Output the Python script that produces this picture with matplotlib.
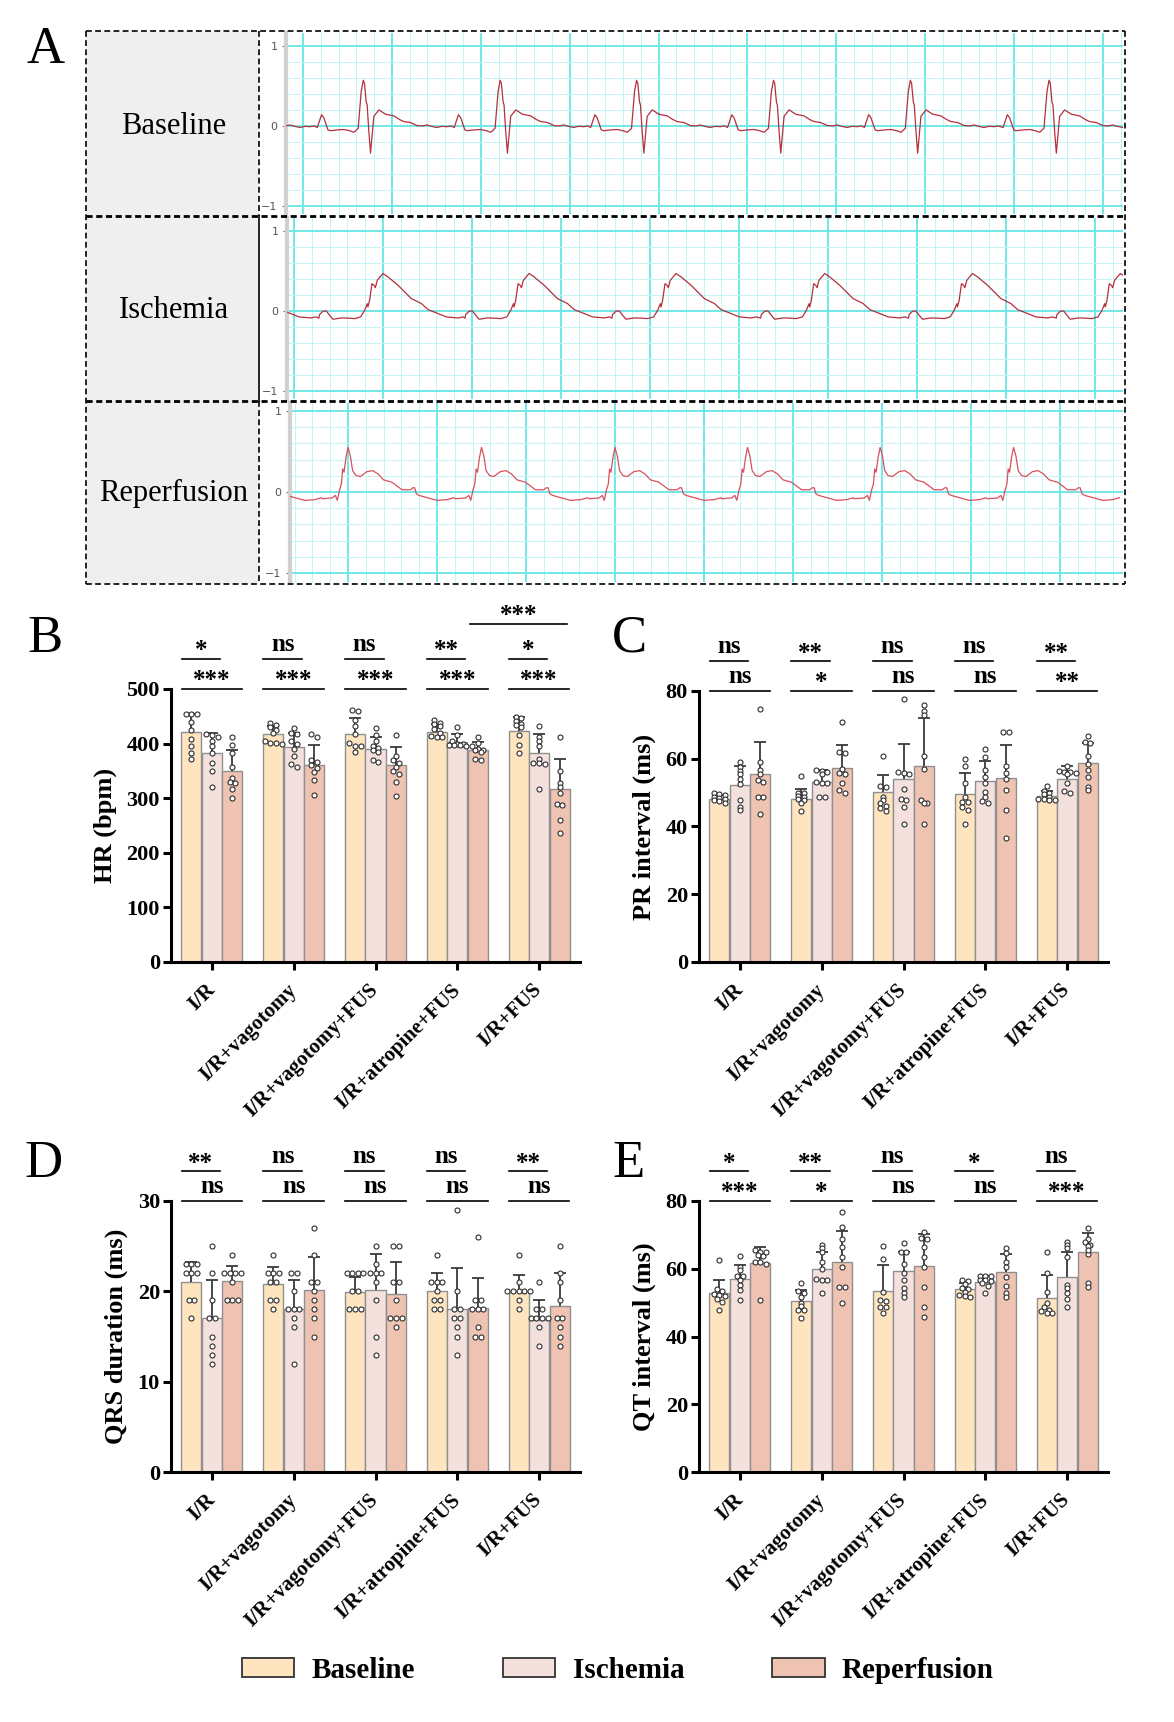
import numpy as np
import matplotlib
matplotlib.use('Agg')
import matplotlib.pyplot as plt
from matplotlib.patches import Rectangle, Patch
from matplotlib.ticker import MultipleLocator

plt.rcParams['font.family'] = ['Liberation Serif', 'DejaVu Serif']
plt.rcParams['font.weight'] = 'bold'
plt.rcParams['axes.labelweight'] = 'bold'

# --- data -------------------------------------------------------------
groups = ['I/R', 'I/R+vagotomy', 'I/R+vagotomy+FUS', 'I/R+atropine+FUS', 'I/R+FUS']
conditions = ['Baseline', 'Ischemia', 'Reperfusion']
cond_colors = ['#FEE5BF', '#F4E1DE', '#EEC3B2']

# HR (bpm): mean, SD, single animals  [group][condition]
hr_mean = [[421, 383, 349], [417, 393, 361], [417, 390, 360], [421, 403, 388], [423, 382, 316]]
hr_sd = [[34, 36, 40], [16, 26, 36], [30, 23, 34], [14, 15, 15], [26, 36, 56]]
hr_pts = [
    [[455, 455, 454, 440, 425, 408, 395, 382, 371], [417, 415, 412, 404, 395, 382, 365, 350, 320], [412, 397, 383, 357, 337, 330, 328, 317, 300]],
    [[437, 434, 430, 425, 420, 405, 402, 401, 400], [428, 420, 418, 404, 400, 390, 378, 362, 358], [418, 412, 370, 366, 360, 355, 348, 334, 306]],
    [[461, 460, 444, 432, 418, 395, 401, 395, 385], [429, 415, 405, 395, 392, 388, 385, 370, 366], [415, 377, 370, 364, 357, 350, 345, 330, 304]],
    [[443, 438, 435, 432, 426, 420, 414, 413, 412], [430, 416, 405, 400, 399, 398, 398, 397, 396], [413, 402, 395, 390, 389, 388, 385, 372, 370]],
    [[449, 447, 441, 436, 434, 430, 416, 397, 382], [432, 412, 405, 395, 372, 365, 364, 363, 316], [412, 350, 328, 320, 309, 290, 288, 260, 236]],
]

# PR interval (ms)
pr_mean = [[48.2, 52.2, 55.6], [48.0, 53.2, 57.3], [50.2, 54.0, 57.9], [49.5, 53.4, 54.2], [49.1, 54.1, 58.7]]
pr_sd = [[1.2, 5.6, 9.4], [3.2, 3.4, 6.9], [5.0, 10.5, 14.0], [6.2, 5.9, 10.0], [1.5, 3.8, 6.0]]
pr_pts = [
    [[49.8, 49.5, 49.2, 48.8, 48.5, 48.0, 47.8, 47.5, 47.0], [59, 57.6, 56.5, 55.5, 54, 52.5, 47.8, 45.8, 44.8], [74.8, 58.9, 56.6, 55.5, 53.7, 53, 48.8, 48.8, 43.7]],
    [[54.9, 50, 49.8, 49, 48.8, 48, 47.8, 46.8, 44.7], [56.8, 56.5, 56.2, 55.6, 53, 52.8, 52.8, 48.8, 48.8], [70.9, 62, 61.8, 57, 55.7, 55.5, 52.7, 50.7, 49.8]],
    [[60.9, 52, 51.8, 48.8, 47.8, 46.8, 46, 45.5, 44.7], [77.7, 56, 55.8, 55.6, 51.2, 48, 47.8, 45.8, 40.7], [76, 74, 72.8, 60.9, 56.9, 47.8, 47, 46.8, 40.7]],
    [[59.9, 57.9, 52.7, 48.8, 47.3, 47.3, 45.8, 45, 40.7], [62.8, 60.6, 56.6, 54.7, 52.7, 50.2, 48.6, 47.5, 46.8], [68, 67.8, 57.9, 55.7, 54, 50.7, 44.9, 36.7]],
    [[52, 50.6, 50, 49.5, 48.8, 48, 48, 47.8, 47.8], [57.9, 56.5, 56, 56, 55.8, 55.5, 52.9, 50.5, 50], [66.7, 64.8, 64.6, 60.9, 58.5, 56.8, 54.7, 51.7, 50.7]],
]

# QRS duration (ms)
qrs_mean = [[21.0, 17.0, 21.1], [20.8, 18.0, 20.1], [19.9, 20.1, 19.7], [20.0, 18.0, 18.1], [20.0, 16.8, 18.4]]
qrs_sd = [[2.2, 4.2, 1.7], [1.9, 3.2, 3.7], [1.7, 4.0, 3.5], [2.0, 4.6, 3.4], [1.8, 2.2, 3.6]]
qrs_pts = [
    [[23, 23, 23, 22, 22, 22, 19, 19, 17], [25, 22, 19, 17, 17, 15, 14, 13, 12], [24, 22, 22, 22, 22, 21, 19, 19, 19]],
    [[24, 22, 22, 22, 21, 21, 19, 19, 18], [22, 22, 20, 18, 18, 18, 17, 16, 12], [27, 24, 21, 21, 20, 19, 18, 17, 15]],
    [[22, 22, 22, 22, 20, 20, 18, 18, 18], [25, 23, 22, 22, 22, 21, 19, 15, 13], [25, 25, 21, 21, 19, 17, 17, 17, 16]],
    [[24, 21, 21, 21, 20, 19, 19, 18, 18], [29, 20, 18, 18, 17, 17, 16, 15, 13], [26, 19, 19, 18, 18, 18, 16, 15, 15]],
    [[24, 21, 20, 20, 20, 20, 20, 19, 18], [21, 18, 18, 17, 17, 17, 17, 16, 14], [25, 22, 21, 19, 17, 17, 16, 15, 14]],
]

# QT interval (ms)
qt_mean = [[52.7, 57.0, 61.8], [50.5, 59.8, 62.0], [53.5, 59.2, 60.9], [53.9, 56.1, 58.9], [51.5, 57.6, 64.8]]
qt_sd = [[4.1, 4.0, 4.6], [3.2, 5.2, 9.2], [7.6, 5.8, 9.5], [1.8, 1.8, 5.6], [6.6, 7.4, 5.9]]
qt_pts = [
    [[62.7, 54, 53.5, 52.5, 52.3, 52, 51.2, 50.3, 47.8], [63.8, 60.6, 59.5, 58, 57.8, 56.6, 55.2, 53.7, 50.7], [65.5, 65, 64.8, 64, 63.8, 62, 61.5, 62, 50.7]],
    [[55.7, 53.5, 52.9, 51.7, 50, 49, 47.8, 47.8, 45.6], [67, 66, 65, 62, 60, 57, 56.8, 56.6, 52.9], [76.8, 72.3, 68.9, 66.5, 63.5, 60.6, 54.7, 54.5, 49.8]],
    [[66.8, 62.8, 53, 50.8, 50.6, 48.8, 48.6, 47], [67.7, 65, 64.8, 61.5, 58.6, 56.6, 54.2, 52.9, 51.7], [70.9, 69, 68.9, 66.5, 63.5, 60.6, 54.7, 48.8, 45.8]],
    [[56.8, 56.5, 55.5, 54.2, 54, 53.2, 52.2, 52, 51.8], [58, 57.9, 57.8, 56.8, 56.6, 56.4, 55.7, 55, 52.7], [66, 64.7, 62, 60.6, 57.6, 55, 52.7, 51.7]],
    [[64.8, 58.6, 53.2, 49.8, 48.6, 47.8, 47.5, 46.8, 46.8], [68, 67, 66, 63.5, 55.2, 54.2, 52.9, 51.2, 48.8], [72, 68.9, 67.9, 67, 66.8, 64.5, 65.5, 55.7, 54.7]],
]

# significance: baseline vs ischemia (upper), baseline vs reperfusion (lower)
hr_sig_top = ['*', 'ns', 'ns', '**', '*']
hr_sig_low = ['***', '***', '***', '***', '***']
pr_sig_top = ['ns', '**', 'ns', 'ns', '**']
pr_sig_low = ['ns', '*', 'ns', 'ns', '**']
qrs_sig_top = ['**', 'ns', 'ns', 'ns', '**']
qrs_sig_low = ['ns', 'ns', 'ns', 'ns', 'ns']
qt_sig_top = ['*', '**', 'ns', '*', 'ns']
qt_sig_low = ['***', '*', 'ns', 'ns', '***']

# ECG traces: one beat (time in grid divisions from the main peak, mV) + peak times
base_beat_t = [-0.524, -0.50, -0.476, -0.45, -0.404, -0.375, -0.30, -0.225, -0.16, -0.112, -0.064, -0.03, -0.007,
               0.007, 0.026, 0.037, 0.056, 0.075, 0.094, 0.112, 0.169, 0.243, 0.337, 0.40, 0.45, 0.524, 0.60,
               0.66, 0.71, 0.76, 0.82, 0.88, 0.936, 0.98]
base_beat_v = [-0.02, 0.06, 0.14, 0.10, -0.05, -0.06, -0.05, -0.045, -0.06, -0.08, -0.03, 0.43, 0.57,
               0.53, 0.30, 0.26, -0.07, -0.34, -0.11, 0.12, 0.20, 0.146, 0.125, 0.08, 0.054, 0.042, 0.004,
               0.0, 0.012, -0.005, -0.02, -0.005, -0.01, 0.0]
base_peaks = [-0.855, 0.685, 2.225, 3.76, 5.30, 6.84, 8.40]

isch_beat_t = [-0.72, -0.712, -0.674, -0.637, -0.60, -0.562, -0.468, -0.40, -0.318, -0.251, -0.206, -0.176,
               -0.169, -0.15, -0.124, -0.101, -0.086, -0.064, 0.0, 0.056, 0.169, 0.318, 0.431, 0.506, 0.618,
               0.712, 0.843, 0.90]
isch_beat_v = [-0.09, -0.046, -0.004, 0.0, -0.054, -0.104, -0.088, -0.09, -0.096, -0.075, 0.008, 0.09,
               0.05, 0.133, 0.34, 0.32, 0.29, 0.383, 0.467, 0.425, 0.32, 0.154, 0.092, 0.017, -0.033,
               -0.075, -0.088, -0.075]
isch_peaks = [-0.656, 0.999, 2.64, 4.29, 5.96, 7.62, 9.28]

rep_beat_t = [-0.292, -0.18, -0.142, -0.12, -0.097, -0.075, -0.06, -0.045, -0.022, 0.0, 0.026, 0.052, 0.09,
              0.139, 0.213, 0.277, 0.337, 0.40, 0.494, 0.607, 0.70, 0.727, 0.749, 0.768, 0.80, 0.906, 1.0,
              1.112, 1.19]
rep_beat_v = [-0.082, -0.073, -0.041, -0.102, 0.02, 0.10, 0.286, 0.245, 0.43, 0.551, 0.449, 0.265, 0.204,
              0.192, 0.253, 0.265, 0.224, 0.151, 0.122, 0.029, 0.029, 0.053, 0.053, -0.02, -0.041, -0.073,
              -0.102, -0.094, -0.07]
rep_peaks = [-1.49, 0.0, 1.50, 3.0, 4.49, 5.98, 7.48]

# --- figure -----------------------------------------------------------
W, H = 1174, 1722
fig = plt.figure(figsize=(W / 100, H / 100), dpi=100)


def px_axes(x0, y0, x1, y1):
    return fig.add_axes([x0 / W, 1 - y1 / H, (x1 - x0) / W, (y1 - y0) / H])


def ecg_row(box, xlim, ylim, beat_t, beat_v, peaks, color):
    ax = px_axes(*box)
    t = np.concatenate([np.array(beat_t) + p for p in peaks])
    v = np.concatenate([np.array(beat_v) for p in peaks])
    ax.plot(t, v, color=color, lw=0.9, zorder=3)
    ax.set_xlim(*xlim)
    ax.set_ylim(*ylim)
    ax.set_xticks(np.arange(np.ceil(xlim[0]), xlim[1], 1.0))
    ax.xaxis.set_minor_locator(MultipleLocator(0.2))
    ax.set_yticks([-1, 0, 1])
    ax.yaxis.set_minor_locator(MultipleLocator(0.2))
    ax.grid(which='minor', color='#c4f4f4', lw=0.7, zorder=0)
    ax.grid(which='major', color='#66e6e6', lw=1.3, zorder=1)
    ax.tick_params(axis='x', which='both', length=0, labelbottom=False)
    ax.tick_params(axis='y', which='major', length=3, color='#777777', labelsize=8,
                   labelcolor='#555555', pad=3)
    ax.tick_params(axis='y', which='minor', length=1.5, color='#999999')
    for lab in ax.get_yticklabels():
        lab.set_family('DejaVu Sans')
        lab.set_weight('normal')
    for s in ['top', 'right', 'bottom']:
        ax.spines[s].set_visible(False)
    ax.spines['left'].set_color('#d0d0d0')
    ax.spines['left'].set_linewidth(3)
    return ax


ecg_row((286, 33, 1123, 214), (-0.191, 9.225), (-1.1, 1.16), base_beat_t, base_beat_v, base_peaks, '#b3303c')
ecg_row((287, 218, 1123, 399), (-0.079, 9.31), (-1.1, 1.16), isch_beat_t, isch_beat_v, isch_peaks, '#b3303c')
ecg_row((290, 403, 1123, 582), (-0.652, 8.71), (-1.11, 1.10), rep_beat_t, rep_beat_v, rep_peaks, '#d9505c')


def swarm(vals, ppu, d=5.6, group_px=81.5):
    vals = np.asarray(vals, float)
    order = np.argsort(vals)[::-1]
    offs = np.zeros(len(vals))
    rows = []
    for k in order:
        y = vals[k] * ppu
        if rows and abs(rows[-1][0] - y) < d * 0.6 and len(rows[-1][1]) < 5:
            rows[-1][1].append(k)
        else:
            rows.append([y, [k]])
    for y, idx in rows:
        n = len(idx)
        for r, k in enumerate(idx):
            offs[k] = (r - (n - 1) / 2) * d / group_px
    return offs


def bar_panel(box, means, sds, pts, ymax, ystep, ylabel, sig_top, sig_low):
    ax = px_axes(*box)
    ppu = (box[3] - box[1]) / ymax
    x = np.arange(len(groups))
    offs = [-0.25, 0.0, 0.25]
    for j in range(3):
        m = np.array([means[i][j] for i in range(len(groups))])
        s = np.array([sds[i][j] for i in range(len(groups))])
        xs = x + offs[j]
        ax.bar(xs, m, width=0.245, color=cond_colors[j], edgecolor='#8f8f8f', linewidth=1.0, zorder=2)
        ax.vlines(xs, m, m + s, color='#3a3a3a', lw=1.3, zorder=3)
        ax.plot(xs, m + s, ls='none', marker='_', ms=9, mew=1.3, color='#3a3a3a', zorder=3)
        for i in range(len(groups)):
            v = pts[i][j]
            ax.scatter(xs[i] + swarm(v, ppu), v, s=13, facecolor='white', edgecolor='#2e2e2e',
                       linewidth=0.8, zorder=4)
    ax.set_xlim(-0.5, 4.5)
    ax.set_ylim(0, ymax)
    ax.set_yticks(np.arange(0, ymax + ystep / 2, ystep))
    ax.set_xticks(x)
    ax.set_xticklabels(groups, rotation=45, ha='right', va='center', rotation_mode='anchor', fontsize=15)
    for s in ['top', 'right']:
        ax.spines[s].set_visible(False)
    for s in ['left', 'bottom']:
        ax.spines[s].set_linewidth(2.2)
    ax.tick_params(axis='y', length=6, width=2.2, labelsize=16, pad=2)
    ax.tick_params(axis='x', length=6, width=2.2, pad=12)
    ax.set_ylabel(ylabel, fontsize=19, labelpad=7)
    # significance bars
    for i in range(len(groups)):
        for frac, a, b, lab in [(1.11, -0.37, 0.10, sig_top[i]), (1.0, -0.37, 0.37, sig_low[i])]:
            yy = frac * ymax
            ax.plot([i + a, i + b], [yy, yy], color='black', lw=1.2, clip_on=False, zorder=5)
            off = 6 if lab == 'ns' else 1.2
            ax.annotate(lab, xy=(i + (a + b) / 2, yy), xytext=(0, off), textcoords='offset points',
                        ha='center', va='baseline', fontsize=18, annotation_clip=False)
    return ax


axB = bar_panel((171, 689, 580, 962), hr_mean, hr_sd, hr_pts, 500, 100, 'HR (bpm)', hr_sig_top, hr_sig_low)
# extra comparison: I/R+atropine+FUS vs I/R+FUS at reperfusion
yy = 1.238 * 500
axB.plot([3.15, 4.345], [yy, yy], color='black', lw=1.2, clip_on=False)
axB.annotate('***', xy=(3.75, yy), xytext=(0, 1.2), textcoords='offset points', ha='center',
             va='baseline', fontsize=18, annotation_clip=False)

bar_panel((699, 691, 1108, 962), pr_mean, pr_sd, pr_pts, 80, 20, 'PR interval (ms)', pr_sig_top, pr_sig_low)
bar_panel((171, 1201, 580, 1472), qrs_mean, qrs_sd, qrs_pts, 30, 10, 'QRS duration (ms)', qrs_sig_top, qrs_sig_low)
bar_panel((699, 1201, 1108, 1472), qt_mean, qt_sd, qt_pts, 80, 20, 'QT interval (ms)', qt_sig_top, qt_sig_low)

# --- overlay: panel A frame, labels, panel letters --------------------
ov = fig.add_axes([0, 0, 1, 1])
ov.set_xlim(0, W)
ov.set_ylim(H, 0)
ov.axis('off')
ov.set_zorder(10)
ov.patch.set_visible(False)

ov.add_patch(Rectangle((86, 31), 173, 553, facecolor='#efefef', edgecolor='none', zorder=0))
for lab, yc in zip(conditions, [126, 311, 493]):
    ov.text(174, yc, lab, ha='center', va='center', fontsize=22, weight='normal')

dash_kw = dict(color='black', lw=1.2, dashes=(3.5, 2))
ov.plot([86, 1125], [31, 31], **dash_kw)
ov.plot([86, 1125], [584, 584], **dash_kw)
ov.plot([86, 86], [31, 584], **dash_kw)
ov.plot([1125, 1125], [31, 584], **dash_kw)
ov.plot([259, 259], [31, 216], **dash_kw)
ov.plot([259, 259], [401, 584], **dash_kw)
ov.plot([259, 259], [216, 401], color='black', lw=1.2)
ov.plot([86, 1125], [216, 216], color='black', lw=2.0, dashes=(2.2, 1.3))
ov.plot([86, 1125], [401, 401], color='black', lw=2.0, dashes=(2.2, 1.3))

for lab, (xc, yc) in zip('ABCDE', [(46, 50), (45, 639), (629, 639), (44, 1164), (629, 1164)]):
    ov.text(xc, yc, lab, ha='center', va='center', fontsize=38, weight='normal')

handles = [Patch(facecolor=c, edgecolor='#333333', linewidth=1.3) for c in cond_colors]
fig.legend(handles, conditions, loc='center', bbox_to_anchor=(618 / W, 1 - 1670 / H), ncol=3,
           frameon=False, fontsize=21, handlelength=1.8, handleheight=0.65, handletextpad=0.6,
           columnspacing=3.0)

fig.savefig('out.png', dpi=100)
